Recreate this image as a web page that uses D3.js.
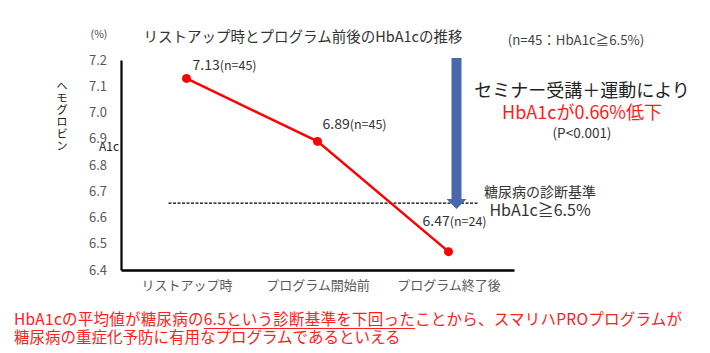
<!DOCTYPE html>
<html>
<head>
<meta charset="utf-8">
<script src="https://cdn.jsdelivr.net/npm/d3@7"></script>
<style>
  body { margin: 0; background: #fff; }
  svg { font-family: "Noto Sans CJK JP", "Noto Sans", sans-serif; }
</style>
</head>
<body>
<svg id="chart"></svg>
<script>
// data
const categories = ['リストアップ時', 'プログラム開始前', 'プログラム終了後'];
const hba1c = [7.13, 6.89, 6.47];
const nCounts = [45, 45, 24];
const yTicks = [6.4, 6.5, 6.6, 6.7, 6.8, 6.9, 7.0, 7.1, 7.2];
const thresholdLine = 6.655;   // dashed line as drawn in the picture
const yTitle = 'ヘモグロビン';
const conclusion1 = 'HbA1cの平均値が糖尿病の6.5という診断基準を下回ったことから、スマリハPROプログラムが';
const conclusion2 = '糖尿病の重症化予防に有用なプログラムであるといえる';
const underlined = '6.5という診断基準を下回った';

const config = {
  containerWidth: 710,
  containerHeight: 353,
  margin: {top: 60, right: 196, bottom: 83, left: 121}
};

const width = config.containerWidth - config.margin.left - config.margin.right;
const height = config.containerHeight - config.margin.top - config.margin.bottom;

const data = categories.map((c, i) => ({cat: c, value: hba1c[i], n: nCounts[i]}));

const svg = d3.select('#chart')
    .attr('width', config.containerWidth)
    .attr('height', config.containerHeight);

const chart = svg.append('g')
    .attr('transform', `translate(${config.margin.left},${config.margin.top})`);

// scales
const xScale = d3.scalePoint()
    .domain(categories)
    .range([0, width])
    .padding(0.5);

const yScale = d3.scaleLinear()
    .domain([d3.min(yTicks), d3.max(yTicks)])
    .range([height, 0]);

// axes
const yAxis = d3.axisLeft(yScale)
    .tickValues(yTicks)
    .tickFormat(d3.format('.1f'))
    .tickSize(0)
    .tickPadding(14);

const xAxis = d3.axisBottom(xScale)
    .tickSize(0)
    .tickPadding(11);

// y axis title (vertical) + A1c
chart.append('text')
    .attr('x', -59)
    .attr('y', yScale(7.1) - 6)
    .style('writing-mode', 'vertical-rl')
    .style('text-orientation', 'upright')
    .attr('letter-spacing', 0.5)
    .attr('font-size', 11.5)
    .attr('fill', '#222')
    .text(yTitle);

chart.append('text')
    .attr('x', -22)
    .attr('y', yScale(6.9) + 12)
    .attr('font-size', 12)
    .attr('fill', '#222')
    .text('A1c');

// threshold dashed line
chart.append('line')
    .attr('x1', xScale(categories[0]) - 18)
    .attr('x2', xScale(categories[2]) + 29)
    .attr('y1', yScale(thresholdLine))
    .attr('y2', yScale(thresholdLine))
    .attr('stroke', '#000')
    .attr('stroke-width', 1.3)
    .attr('stroke-dasharray', '3,1.5');

// axes drawn
const yAxisG = chart.append('g').attr('class', 'axis y-axis').call(yAxis);
const xAxisG = chart.append('g').attr('class', 'axis x-axis')
    .attr('transform', `translate(0,${height})`)
    .call(xAxis);

yAxisG.select('.domain').attr('stroke', '#000').attr('stroke-width', 2.2);
xAxisG.select('.domain').attr('stroke', '#000').attr('stroke-width', 2.6);
[yAxisG, xAxisG].forEach(g => g.selectAll('text')
    .attr('font-family', '"Noto Sans CJK JP", sans-serif')
    .attr('font-size', 13)
    .attr('fill', '#595959'));

// line + points
const line = d3.line()
    .x(d => xScale(d.cat))
    .y(d => yScale(d.value));

chart.append('path')
    .datum(data)
    .attr('d', line)
    .attr('fill', 'none')
    .attr('stroke', '#ff0000')
    .attr('stroke-width', 2.5);

chart.selectAll('.pt')
    .data(data)
    .join('circle')
    .attr('class', 'pt')
    .attr('cx', d => xScale(d.cat))
    .attr('cy', d => yScale(d.value))
    .attr('r', 4.5)
    .attr('fill', '#ff0000');

// point labels
const labelOffsets = [[6, -8], [5, -12], [-26, -26]];
const lbl = chart.selectAll('.pt-label')
    .data(data)
    .join('text')
    .attr('class', 'pt-label')
    .attr('x', (d, i) => xScale(d.cat) + labelOffsets[i][0])
    .attr('y', (d, i) => yScale(d.value) + labelOffsets[i][1])
    .attr('fill', '#333');
lbl.append('tspan').attr('font-size', 14).text(d => d3.format('.2f')(d.value));
lbl.append('tspan').attr('font-size', 12.5).text(d => `(n=${d.n})`);

// blue arrow
const ax = xScale(categories[2]) + 8;
const aTop = yScale(7.2) - 2;
const aHead = yScale(thresholdLine) - 4;
const aTip = yScale(thresholdLine) + 6;
chart.append('path')
    .attr('d', `M${ax - 5},${aTop} L${ax + 5},${aTop} L${ax + 5},${aHead} L${ax + 10},${aHead} L${ax},${aTip} L${ax - 10},${aHead} L${ax - 5},${aHead} Z`)
    .attr('fill', '#4a68ad');

// titles and annotations
svg.append('text')
    .attr('x', 303).attr('y', 42)
    .attr('text-anchor', 'middle')
    .attr('font-size', 14.5)
    .attr('fill', '#333')
    .text('リストアップ時とプログラム前後のHbA1cの推移');

svg.append('text')
    .attr('x', 99).attr('y', 38)
    .attr('text-anchor', 'middle')
    .attr('font-size', 10.5)
    .attr('fill', '#444')
    .text('(%)');

svg.append('text')
    .attr('x', 576).attr('y', 45)
    .attr('text-anchor', 'middle')
    .attr('font-size', 13.3)
    .attr('fill', '#444')
    .text('(n=45：HbA1c≧6.5%)');

svg.append('text')
    .attr('x', 582).attr('y', 97)
    .attr('text-anchor', 'middle')
    .attr('font-size', 18)
    .attr('fill', '#222')
    .text('セミナー受講＋運動により');

svg.append('text')
    .attr('x', 582).attr('y', 119)
    .attr('text-anchor', 'middle')
    .attr('font-size', 18)
    .attr('fill', '#ff1a1a')
    .text('HbA1cが0.66%低下');

svg.append('text')
    .attr('x', 582).attr('y', 138)
    .attr('text-anchor', 'middle')
    .attr('font-size', 13.5)
    .attr('fill', '#333')
    .text('(P<0.001)');

svg.append('text')
    .attr('x', 540).attr('y', 197)
    .attr('text-anchor', 'middle')
    .attr('font-size', 14)
    .attr('fill', '#333')
    .text('糖尿病の診断基準');

svg.append('text')
    .attr('x', 540).attr('y', 216)
    .attr('text-anchor', 'middle')
    .attr('font-size', 16)
    .attr('fill', '#333')
    .text('HbA1c≧6.5%');

// conclusion text
const concl = svg.append('text')
    .attr('x', 14).attr('y', 325)
    .attr('font-size', 15.5)
    .attr('fill', '#ff2020')
    .attr('textLength', 668)
    .attr('lengthAdjust', 'spacing')
    .text(conclusion1);

// underline below the key phrase
const node = concl.node();
const uStart = conclusion1.indexOf(underlined);
const uEnd = uStart + underlined.length - 1;
const e0 = node.getExtentOfChar(uStart);
const e1 = node.getExtentOfChar(uEnd);
svg.append('line')
    .attr('x1', e0.x)
    .attr('x2', e1.x + e1.width)
    .attr('y1', 328.5)
    .attr('y2', 328.5)
    .attr('stroke', '#ff2020')
    .attr('stroke-width', 1.1);

svg.append('text')
    .attr('x', 14).attr('y', 343)
    .attr('font-size', 15.5)
    .attr('fill', '#ff2020')
    .text(conclusion2);
</script>
</body>
</html>
